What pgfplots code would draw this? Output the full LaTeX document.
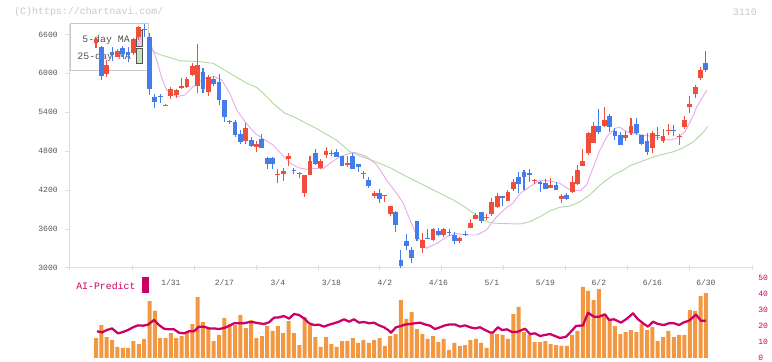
\documentclass[border=0pt]{standalone}
\usepackage{fontspec}
\setmainfont{Liberation Mono}
\usepackage{pgfplots}
\usepackage{pgfplotstable}
\pgfplotsset{compat=1.18}
\definecolor{upc}{RGB}{240,78,58}
\definecolor{dnc}{RGB}{66,125,235}
\definecolor{ma5}{RGB}{232,172,232}
\definecolor{ma25}{RGB}{176,218,162}
\definecolor{volc}{RGB}{242,152,66}
\definecolor{aic}{RGB}{204,0,102}
\definecolor{axc}{RGB}{222,222,222}
\definecolor{lblc}{RGB}{85,85,85}
\definecolor{cpc}{RGB}{200,200,200}
\definecolor{lgb}{RGB}{200,200,200}

% up (red) candles: index open high low close
\pgfplotstableread{
i o h l c
0 6462 6540 6395 6524
2 5994 6205 5948 6128
4 6256 6370 6245 6344
7 6308 6540 6282 6524
8 6555 6729 6508 6709
13 5495 5522 5490 5510
14 5655 5785 5604 5754
15 5666 5760 5620 5737
16 5770 5923 5765 5805
17 5785 5948 5770 5912
18 5974 6164 5959 6118
19 5809 6447 5692 6128
21 5705 5968 5645 5937
28 4962 5230 4911 5162
30 4869 4957 4792 4911
34 4440 4521 4314 4455
35 4449 4546 4341 4500
36 4684 4777 4572 4726
38 4452 4484 4392 4467
39 4160 4433 4100 4433
40 4433 4726 4433 4649
42 4536 4675 4526 4649
43 4741 4870 4690 4808
44 4763 4818 4726 4778
47 4587 4726 4556 4623
50 4442 4500 4372 4457
52 4115 4186 4084 4160
54 4110 4130 4017 4125
55 3832 3960 3801 3955
61 3313 3535 3226 3431
63 3431 3622 3421 3596
65 3509 3622 3473 3601
68 3421 3473 3380 3467
70 3612 3750 3612 3698
71 3755 3852 3750 3817
73 3768 3827 3745 3783
74 3827 4074 3801 4023
75 3935 4151 3930 4110
77 4032 4202 4032 4176
78 4212 4367 4191 4331
82 4337 4377 4300 4352
85 4238 4382 4235 4280
87 4063 4140 4000 4110
89 4176 4418 4151 4320
90 4294 4587 4279 4510
91 4572 4834 4570 4649
92 4767 5101 4741 5085
93 4931 5255 4931 5188
95 5188 5476 5168 5281
99 4998 5111 4957 5050
100 5076 5316 5050 5188
104 4845 5111 4767 5086
106 4962 5142 4931 5034
107 5117 5219 5050 5132
109 5016 5065 4895 5031
110 5178 5342 5142 5281
111 5486 5650 5384 5527
112 5676 5820 5615 5785
113 5933 6102 5892 6051
}\upt

% down (blue) candles: index open high low close
\pgfplotstableread{
i o h l c
1 6405 6420 5897 5963
3 6333 6410 6190 6282
5 6389 6421 6256 6298
6 6323 6410 6180 6282
9 6680 6760 6565 6660
10 6560 6617 5666 5758
11 5640 5676 5461 5553
12 5645 5676 5538 5630
20 6025 6077 5692 5758
22 5912 5953 5800 5830
23 5871 5990 5512 5589
24 5589 5595 5255 5332
25 5265 5280 5220 5250
26 5250 5280 5020 5050
27 5065 5127 4906 4946
29 4972 5023 4869 4885
31 4988 5065 4850 4854
32 4700 4710 4521 4603
33 4695 4705 4530 4610
37 4515 4546 4444 4500
41 4777 4829 4587 4603
45 4783 4834 4705 4715
46 4726 4730 4570 4572
48 4726 4777 4520 4526
49 4603 4610 4484 4561
51 4356 4407 4238 4264
53 4160 4217 4007 4063
56 3868 3883 3560 3663
57 3123 3277 2985 3035
58 3421 3524 3277 3339
59 3277 3319 3082 3159
60 3724 3730 3421 3442
62 3455 3596 3440 3440
64 3575 3622 3488 3509
66 3555 3596 3488 3540
67 3509 3555 3370 3421
69 3530 3570 3488 3515
72 3858 3860 3700 3724
76 4110 4115 3955 4084
79 4398 4475 4151 4294
80 4475 4510 4202 4398
81 4469 4521 4331 4433
83 4331 4341 4177 4290
84 4305 4367 4215 4217
86 4280 4320 4200 4202
88 4125 4160 4048 4063
94 5188 5450 5065 5101
96 5342 5373 5101 5168
97 5111 5152 4972 5034
98 5050 5096 4890 4895
101 5219 5316 5050 5086
102 5050 5055 4890 4911
103 4957 5080 4741 4792
105 5050 5173 4972 5035
108 5127 5198 5035 5111
114 6164 6344 6025 6051
}\dnt

\pgfplotstableread{
i v
0 12.5
1 20.6
2 13.1
3 11.25
4 6.9
5 6.25
6 6.25
7 10.6
8 8.75
9 11.9
10 35.6
11 29.4
12 12.5
13 12.5
14 15.6
15 12.5
16 13.75
17 16.25
18 21.25
19 38.1
20 22.5
21 18.1
22 10.6
23 14.4
24 25
25 21.25
26 20.6
27 26.9
28 18.75
29 23.75
30 12.5
31 13.75
32 20
33 16.9
34 20
35 15.6
36 23.1
37 15.6
38 8.1
39 25.6
40 20.6
41 13.1
42 6.9
43 13.1
44 8.75
45 6.9
46 10.6
47 10.6
48 12.5
49 9.4
50 11.25
51 9.4
52 11.25
53 12.5
54 7.5
55 13.75
56 15
57 36.25
58 24.4
59 28.75
60 18.1
61 15
62 11.9
63 13.75
64 10
65 11.9
66 5
67 9.4
68 7.5
69 8.1
70 11.25
71 11.9
72 9.4
73 6.25
74 16.25
75 15
76 14.4
77 11.9
78 27.5
79 31.9
80 16.25
81 14.4
82 10
83 10
84 10.6
85 8.75
86 8.1
87 7.5
88 7.5
89 14.4
90 16.9
91 44.4
92 41.9
93 36.25
94 43.1
95 26.9
96 23.75
97 20
98 15
99 16.25
100 17.5
101 16.25
102 21.25
103 17.5
104 19.4
105 10.6
106 13.1
107 16.9
108 13.1
109 14.4
110 14.4
111 30
112 29.4
113 38.75
114 40.6
}\volt

\begin{document}
\begin{tikzpicture}
\useasboundingbox (0,0) rectangle (579pt,270.75pt);
\begin{scope}[x=0.75pt,y=0.75pt]
% header texts
\node[anchor=west, inner sep=0, text=cpc, font=\fontsize{7.45}{8}\selectfont] at (14,349) {(C)https://chartnavi.com/};
\node[anchor=east, inner sep=0, text=cpc, font=\fontsize{7.45}{8}\selectfont] at (757,349) {3110};
% MA legend box
\draw[lgb, fill=white, line width=0.75pt] (70,290) rectangle (148,337);
\node[anchor=east, inner sep=0, text=lblc, font=\fontsize{7.4}{8}\selectfont] at (130,321) {5-day MA};
\node[anchor=east, inner sep=0, text=lblc, font=\fontsize{7.4}{8}\selectfont] at (131,304) {25-day MA};
\draw[lblc, fill=ma5!70, line width=0.6pt] (136.5,315) rectangle (142.5,331);
\draw[lblc, fill=ma25!75, line width=0.6pt] (136.5,298) rectangle (142.5,313);
% AI-Predict label
\node[anchor=west, inner sep=0, text=aic, font=\fontsize{7.4}{8}\selectfont] at (76,75.5) {AI-Predict};
\fill[aic] (142,68) rectangle (149,84);
\end{scope}

% main price panel
\begin{axis}[
  at={(52.5pt,69.75pt)}, anchor=south west,
  width=511.5pt, height=183pt, scale only axis,
  xmin=-4.86, xmax=122.62, ymin=3000, ymax=6760,
  axis x line*=bottom, axis y line*=left,
  axis line style={-, draw=axc, line width=0.75pt},
  tick align=outside,
  major tick length=3.75pt,
  tick style={draw=axc, line width=0.75pt},
  xtick={-4.86,6.73,18.32,29.91,41.50,53.08,64.67,76.26,87.85,99.44,111.03,122.62},
  xticklabels={},
  xtick style={yshift=2.25pt},
  extra x ticks={14,24,34,44,54,64,74,84,94,104,114},
  extra x tick labels={1/31,2/17,3/4,3/18,4/2,4/16,5/1,5/19,6/2,6/16,6/30},
  extra x tick style={major tick length=0pt, xticklabel style={yshift=-5pt}},
  ytick={3000,3600,4200,4800,5400,6000,6600},
  yticklabels={3000,3600,4200,4800,5400,6000,6600},
  yticklabel style={xshift=-2pt},
  tick label style={font=\fontsize{6}{7}\selectfont, text=lblc},
]
\addplot[ma25, line width=0.7pt] coordinates {
(10.4,6359)(11.3,6308)(13.2,6256)(15.7,6195)(19.4,6179)(21.9,6154)(25.6,5974)(28.2,5846)(30.0,5785)(31.3,5692)(33.1,5538)(35.3,5384)(36.9,5332)(38.7,5255)(41.3,5145)(44.9,4972)(47.5,4792)(49.3,4726)(51.8,4653)(54.95,4546)(58.1,4407)(60.6,4305)(63.7,4176)(66.8,4048)(69.3,3920)(71.8,3766)(73.6,3698)(75.5,3686)(79.3,3678)(81.1,3714)(83.0,3791)(84.9,3883)(86.7,3935)(88.6,3955)(90.5,4022)(92.3,4125)(94.2,4279)(96.7,4433)(98.6,4510)(99.8,4576)(102.3,4653)(104.8,4726)(107.9,4792)(109.8,4854)(111.7,4946)(113.6,5100)(114.3,5178)
};
\addplot[ma5, line width=0.7pt] coordinates {
(10.4,6410)(11.35,6205)(12.3,5923)(13.2,5743)(15.1,5640)(16.6,5666)(18.1,5789)(19.4,5871)(20.9,5939)(22.2,5948)(23.5,5897)(25.0,5692)(26.3,5435)(27.9,5250)(29.7,5076)(31.6,4972)(33.1,4895)(35.0,4726)(36.3,4618)(37.8,4546)(39.4,4521)(40.6,4536)(42.4,4526)(43.7,4613)(45.6,4715)(47.5,4768)(48.4,4783)(50.6,4715)(52.5,4587)(54.3,4356)(56.2,4151)(57.4,4002)(58.7,3740)(59.9,3509)(61.8,3304)(63.7,3381)(65.6,3482)(67.1,3535)(69.3,3509)(71.2,3509)(73.0,3586)(74.9,3791)(76.8,3935)(77.9,3997)(79.3,4151)(81.1,4253)(83.0,4356)(84.9,4341)(86.7,4305)(88.6,4202)(90.5,4191)(91.7,4279)(93.0,4561)(94.2,4818)(95.5,5023)(97.0,5153)(97.9,5168)(99.2,5100)(100.4,5076)(102.2,5050)(104.1,5023)(105.9,4999)(107.3,4972)(108.5,4999)(110.1,5100)(111.6,5342)(112.3,5486)(114.2,5743)
};
% wicks
\addplot[upc, line width=0.8pt, quiver={u=0, v=\thisrow{h}-\thisrow{l}}] table[x=i, y=l] {\upt};
\addplot[dnc, line width=0.8pt, quiver={u=0, v=\thisrow{h}-\thisrow{l}}] table[x=i, y=l] {\dnt};
% bodies
\addplot[upc, line width=3.6pt, quiver={u=0, v=\thisrow{c}-\thisrow{o}}] table[x=i, y=o] {\upt};
\addplot[dnc, line width=3.6pt, quiver={u=0, v=\thisrow{c}-\thisrow{o}}] table[x=i, y=o] {\dnt};
\end{axis}

% volume / AI-Predict panel
\begin{axis}[
  at={(52.5pt,2.25pt)}, anchor=south west,
  width=511.5pt, height=60pt, scale only axis,
  xmin=-4.86, xmax=122.62, ymin=0, ymax=50,
  axis line style={draw=none},
  tick style={draw=none},
  xtick=\empty,
  ytick={0,10,20,30,40,50},
  yticklabels={0,10,20,30,40,50},
  yticklabel pos=right,
  yticklabel style={font=\fontsize{6}{7}\selectfont, text=aic, xshift=1.2pt},
]
\addplot[ybar, bar width=3pt, fill=volc, draw=none] table[x=i, y=v] {\volt};
\addplot[aic, line width=1.7pt, line join=round] coordinates {
(0.19,16.7)(1.12,16.0)(2.06,17.5)(2.99,18.5)(4.11,15.4)(5.05,16.25)(5.98,17.5)(6.92,19.2)(7.85,20.4)(8.79,20.2)(9.72,20.8)(10.84,23.75)(11.78,20.6)(12.71,18.3)(13.64,17.9)(14.58,17.9)(15.51,15.8)(16.45,15.4)(17.38,16.7)(18.32,16.7)(19.25,19.6)(20.19,19.6)(21.12,18.5)(22.06,18.5)(22.99,18.1)(23.93,18.75)(24.86,20)(25.79,21.7)(26.73,21.7)(27.66,21.7)(28.41,22.3)(29.53,22.3)(30.47,21.7)(31.40,21.25)(32.34,22.3)(33.27,25.2)(34.21,25.4)(35.14,26.25)(36.07,24.6)(37.01,27.5)(37.94,26.9)(38.88,24.8)(39.81,21.7)(40.75,20.6)(41.68,20.8)(42.62,19.6)(43.55,20.8)(44.49,21.7)(45.42,22.7)(46.36,24.2)(47.29,22.7)(48.22,24.2)(49.16,22.1)(50.09,22.5)(51.03,21.7)(51.96,22.1)(52.90,20.4)(53.83,19.2)(54.77,17.1)(55.14,15.8)(56.07,19.2)(57.01,20)(57.76,20.9)(58.69,21.25)(59.63,21.7)(60.56,22.1)(61.50,21.0)(62.43,20.2)(63.36,18.1)(64.30,19.2)(65.23,20.4)(66.17,21.0)(67.10,21.0)(68.04,19.6)(68.97,20.4)(69.91,19.2)(70.84,18.5)(71.78,19.2)(72.71,17.5)(73.64,16)(74.21,16)(75.14,19.2)(75.89,17.5)(76.82,17.9)(77.76,16.25)(78.69,16.25)(80.19,18.3)(81.12,15)(82.06,15.4)(82.99,13.75)(83.93,14.4)(84.86,15)(85.79,13.75)(86.73,12.5)(87.85,13.3)(88.79,16.5)(89.72,20)(91.03,20.4)(91.96,28.3)(93.08,25.8)(94.02,25.8)(95.14,27.3)(95.89,23.75)(96.82,24.2)(98.13,22.1)(99.25,24.6)(100.37,27.9)(101.31,24.2)(102.24,21.7)(103.18,19.6)(104.11,22.7)(105.05,21.25)(106.17,20.6)(107.10,21.7)(108.04,21.7)(108.97,20.6)(109.91,22.3)(110.84,23.3)(112.15,27.1)(113.08,23.3)(114.02,23.3)
};
\end{axis}
\end{tikzpicture}
\end{document}
